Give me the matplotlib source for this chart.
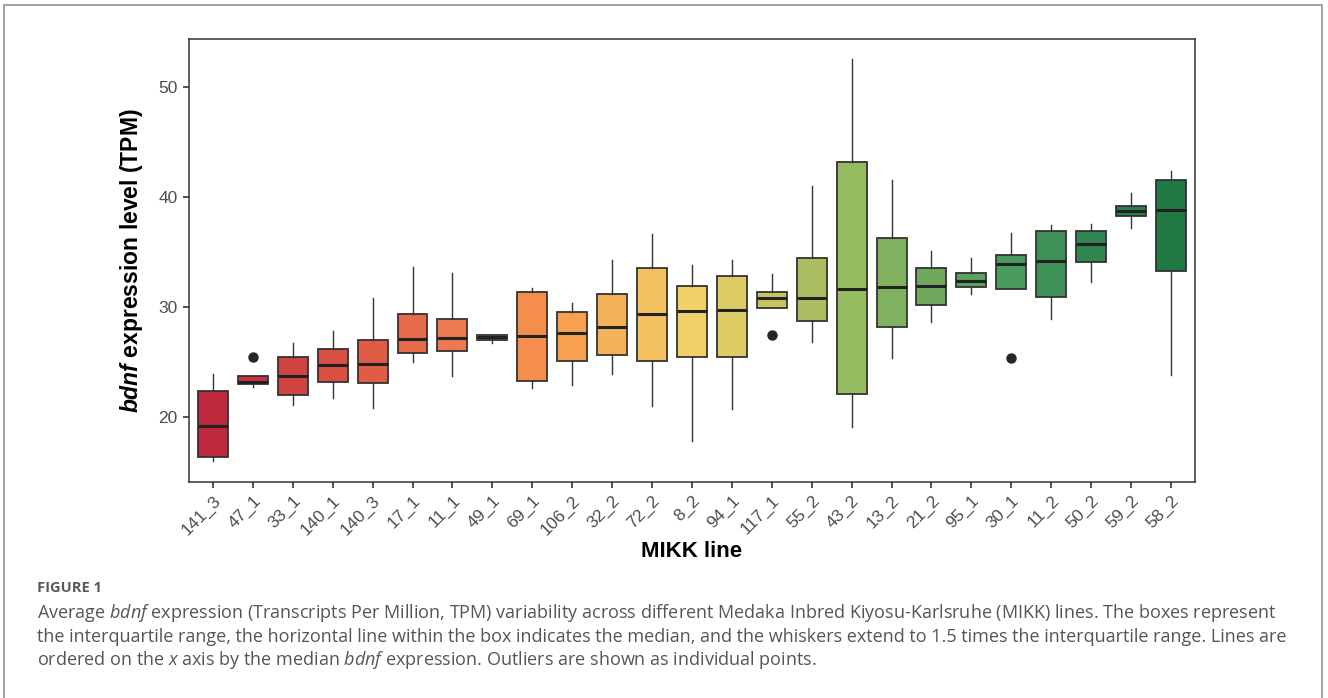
import matplotlib
matplotlib.use('Agg')
import matplotlib.pyplot as plt
from matplotlib.patches import Rectangle

# MIKK lines, ordered by median expression
lines = ['141_3', '47_1', '33_1', '140_1', '140_3', '17_1', '11_1', '49_1', '69_1',
         '106_2', '32_2', '72_2', '8_2', '94_1', '117_1', '55_2', '43_2', '13_2',
         '21_2', '95_1', '30_1', '11_2', '50_2', '59_2', '58_2']

# box statistics (TPM)
whisk_lo = [16.0, 22.7, 21.1, 21.7, 20.8, 25.0, 23.7, 26.7, 22.6, 22.9, 23.9, 21.0, 17.8,
            20.7, 29.9, 26.8, 19.1, 25.4, 28.6, 31.2, 31.65, 28.9, 32.3, 37.2, 23.8]
q1 = [16.4, 23.03, 22.0, 23.2, 23.1, 25.85, 26.0, 27.02, 23.25, 25.1, 25.65, 25.1, 25.45,
      25.45, 29.9, 28.75, 22.1, 28.2, 30.2, 31.85, 31.65, 30.9, 34.1, 38.3, 33.3]
medians = [19.2, 23.2, 23.7, 24.7, 24.8, 27.05, 27.15, 27.3, 27.35, 27.6, 28.2, 29.4, 29.6,
           29.7, 30.8, 30.85, 31.6, 31.8, 31.9, 32.35, 33.9, 34.15, 35.75, 38.75, 38.85]
q3 = [22.35, 23.72, 25.5, 26.2, 27.0, 29.4, 28.95, 27.47, 31.35, 29.55, 31.2, 33.5, 31.9,
      32.85, 31.4, 34.45, 43.15, 36.25, 33.5, 33.1, 34.75, 36.95, 36.9, 39.2, 41.5]
whisk_hi = [23.9, 23.72, 26.7, 27.8, 30.85, 33.6, 33.1, 27.47, 31.75, 30.4, 34.3, 36.6, 33.85,
            34.3, 33.0, 41.0, 52.55, 41.55, 35.05, 34.45, 36.75, 37.45, 37.5, 40.4, 42.4]
outliers = {'47_1': [25.5], '117_1': [27.45], '30_1': [25.4]}

colors = ['#BE283D', '#C93140', '#D04542', '#D84F44', '#E05C46', '#E86B4B', '#EC7A4E',
          '#F08A50', '#F58E4C', '#F7A050', '#F5B158', '#F4C160', '#F2D068', '#DDCB66',
          '#C6C461', '#ABBF62', '#95BC60', '#80B260', '#6DA85D', '#5AA25D', '#4A9B5E',
          '#3E9158', '#318651', '#298049', '#227843']

plt.rcParams['mathtext.fontset'] = 'custom'
plt.rcParams['mathtext.bf'] = 'Liberation Sans:bold:italic'
plt.rcParams['mathtext.sf'] = 'Open Sans:italic'

stats = []
for i, name in enumerate(lines):
    stats.append({'label': name, 'whislo': whisk_lo[i], 'q1': q1[i], 'med': medians[i],
                  'q3': q3[i], 'whishi': whisk_hi[i], 'fliers': outliers.get(name, [])})

fig = plt.figure(figsize=(13.28, 6.98), dpi=100)
ax = fig.add_axes([0.1423, 0.3095, 0.7575, 0.6346])

bp = ax.bxp(stats, positions=range(len(lines)), widths=0.75, patch_artist=True,
            showcaps=False,
            boxprops=dict(edgecolor='#333333', linewidth=1.3),
            whiskerprops=dict(color='#333333', linewidth=1.0),
            medianprops=dict(color='#222222', linewidth=2.2),
            flierprops=dict(marker='o', markerfacecolor='#262626',
                            markeredgecolor='#262626', markersize=6.5))
for patch, c in zip(bp['boxes'], colors):
    patch.set_facecolor(c)

ax.set_xlim(-0.6, len(lines) - 0.4)
ax.set_ylim(14.1, 54.35)
ax.set_yticks([20, 30, 40, 50])
ax.set_xticks(range(len(lines)))
ax.set_xticklabels(lines, rotation=45, ha='right', rotation_mode='anchor')
ax.tick_params(axis='both', colors='#333333', labelcolor='#4D4D4D', labelsize=12.5,
               length=4.5, width=1.2)
for lab in ax.get_xticklabels() + ax.get_yticklabels():
    lab.set_family('Liberation Sans')
for sp in ax.spines.values():
    sp.set_color('#333333')
    sp.set_linewidth(1.1)

ax.set_ylabel(r'$\mathbf{bdnf}$ expression level (TPM)', family='Liberation Sans',
              fontweight='bold', fontsize=16.5, labelpad=10)
ax.set_xlabel('MIKK line', family='Liberation Sans', fontweight='bold', fontsize=16,
              labelpad=2)

# outer frame and caption
fig.patches.append(Rectangle((4 / 1328, -0.05), 1322 / 1328 - 4 / 1328, 1.05 - 5 / 698,
                             transform=fig.transFigure, fill=False,
                             edgecolor='#9A9A9A', linewidth=1.3))
fig.text(37 / 1328, 1 - 588 / 698, 'FIGURE 1', family='Open Sans', fontsize=10.5,
         fontweight='bold', color='#5A5A5A', va='center')
caption = [
    r'Average $\mathsf{bdnf}$ expression (Transcripts Per Million, TPM) variability across different Medaka Inbred Kiyosu-Karlsruhe (MIKK) lines. The boxes represent',
    'the interquartile range, the horizontal line within the box indicates the median, and the whiskers extend to 1.5 times the interquartile range. Lines are',
    r'ordered on the $\mathsf{x}$ axis by the median $\mathsf{bdnf}$ expression. Outliers are shown as individual points.',
]
for k, line in enumerate(caption):
    fig.text(37 / 1328, 1 - (613 + 23.5 * k) / 698, line, family='Open Sans',
             fontsize=13, color='#555555', va='center')

fig.savefig('out.png', dpi=100)
